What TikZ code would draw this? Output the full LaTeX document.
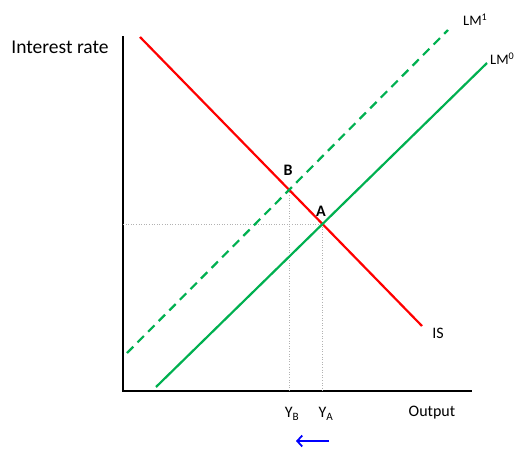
\documentclass[tikz,border=0pt]{standalone}
\usepackage{fontspec}
\setmainfont{Carlito}
\usetikzlibrary{intersections,arrows.meta}
\definecolor{isred}{RGB}{255,0,0}
\definecolor{lmgreen}{RGB}{0,176,80}
\definecolor{arrblue}{RGB}{0,0,255}
\tikzset{
  axis/.style={line width=1.8pt,black},
  iscurve/.style={line width=2.2pt,isred},
  lmcurve/.style={line width=2.2pt,lmgreen},
  guide/.style={gray!60,dotted,line width=0.6pt},
  lab/.style={font=\fontsize{16}{18}\selectfont,inner sep=0pt},
  lmlab/.style={font=\fontsize{14.5}{17}\selectfont,inner sep=0pt,anchor=west},
  pt/.style={font=\fontsize{16}{18}\selectfont\bfseries,inner sep=0pt}
}
\begin{document}
\begin{tikzpicture}[x=1pt,y=-1pt]
\useasboundingbox (0,0) rectangle (515,450);
% axes
\coordinate (top) at (123,36);
\coordinate (origin) at (123,391);
\coordinate (right) at (472,391);
\draw[axis] (top) -- (origin) -- (right);
% curves
\coordinate (is1) at (140,37);
\coordinate (is2) at (422,326);
\coordinate (lm0a) at (156,387);
\coordinate (lm0b) at (487,63);
\coordinate (lm1a) at (127,353);
\coordinate (lm1b) at (448,30);
\path[name path=IS] (is1) -- (is2);
\path[name path=LM0] (lm0a) -- (lm0b);
\path[name path=LM1] (lm1a) -- (lm1b);
\path[name intersections={of=IS and LM0,by=A}];
\path[name intersections={of=IS and LM1,by=B}];
\coordinate (Ax) at (origin -| A);
\coordinate (Bx) at (origin -| B);
\coordinate (Ay) at (origin |- A);
% guides
\draw[guide] (Ay) -- (A);
\draw[guide] (A) -- (Ax);
\draw[guide] (B) -- (Bx);
\draw[iscurve] (is1) -- (is2);
\draw[lmcurve] (lm0a) -- (lm0b);
\draw[lmcurve,dash pattern=on 9pt off 6pt] (lm1a) -- (lm1b);
% labels
\node[font=\fontsize{19.5}{22}\selectfont,inner sep=0pt] (ylab) at (60,47) {Interest rate};
\node[lab] (xlab) at (432,413) {Output};
\node[lab] (islab) at (438,333) {IS};
\node[lmlab] (lm0lab) at (490,59) {LM\textsuperscript{0}};
\node[lmlab] (lm1lab) at (463,20) {LM\textsuperscript{1}};
\node[pt] (Alab) at (321,211) {A};
\node[pt] (Blab) at (288,170) {B};
\node[lab] (YB) at (292,414) {Y\textsubscript{B}};
\node[lab] (YA) at (326,414) {Y\textsubscript{A}};
\coordinate (arrS) at (329,441);
\coordinate (arrE) at (296,441);
\draw[arrblue,line width=1.8pt,-{Straight Barb[length=5pt,width=11pt]}] (arrS) -- (arrE);
\end{tikzpicture}
\end{document}
